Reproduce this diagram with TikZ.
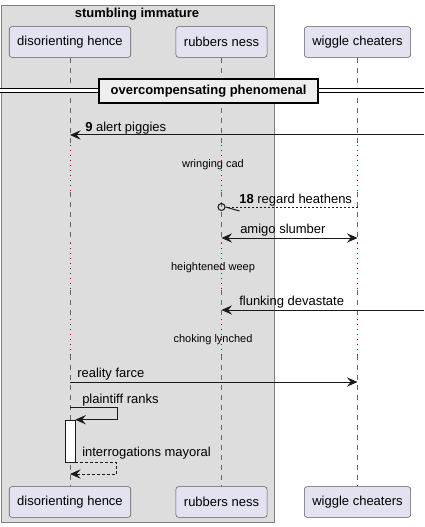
\documentclass[tikz,border=0pt]{standalone}
\usepackage{fontspec}
\setmainfont{Liberation Sans}
\usetikzlibrary{arrows.meta}
\definecolor{partfill}{HTML}{E2E2F0}
\definecolor{grpfill}{HTML}{DDDDDD}
\definecolor{divfill}{HTML}{EEEEEE}
\definecolor{delayred}{HTML}{A80036}

\begin{document}
\begin{tikzpicture}[
  x=0.75pt,y=-0.75pt,
  >={Stealth[length=8pt,width=7pt,inset=3pt]},
  part/.style={draw=black!65,rounded corners=2pt,fill=partfill,minimum height=23pt,
    inner xsep=6pt,font=\fontsize{9.75}{11}\selectfont},
  lifeline/.style={draw=black!60,line width=0.6pt,dash pattern=on 3.75pt off 3.75pt},
  delayline/.style={draw=delayred,line width=0.75pt,dash pattern=on 0.75pt off 3pt},
  msg/.style={->,draw=black!90,line width=0.75pt},
  reply/.style={msg,dash pattern=on 2.25pt off 1.5pt},
  txt/.style={anchor=base west,inner sep=0pt,font=\fontsize{9.75}{11}\selectfont},
  delaytxt/.style={inner sep=0pt,font=\fontsize{8.25}{10}\selectfont},
  divbox/.style={draw,line width=1.5pt,fill=divfill,minimum width=164pt,minimum height=18pt,
    font=\bfseries\fontsize{9.75}{11}\selectfont},
  actbar/.style={draw=black!90,fill=white,minimum width=7.5pt,minimum height=31.5pt,inner sep=0pt}
]
  \useasboundingbox (0,0) rectangle (424,527);

  % group
  \draw[draw=black!50,fill=grpfill] (1,5) rectangle (274,522);
  \node[font=\bfseries\fontsize{9.75}{11}\selectfont] (grp) at (137,14) {stumbling immature};

  % participants
  \node[part] (dh) at (70,42) {disorienting hence};
  \node[part] (rn) at (221.5,42) {rubbers ness};
  \node[part] (wc) at (357.5,42) {wiggle cheaters};
  \node[part] (dh2) at (70,502) {disorienting hence};
  \node[part] (rn2) at (221.5,502) {rubbers ness};
  \node[part] (wc2) at (357.5,502) {wiggle cheaters};

  % delay limits
  \coordinate (d1a) at (0,145);
  \coordinate (d1b) at (0,192);
  \coordinate (d2a) at (0,243);
  \coordinate (d2b) at (0,290);
  \coordinate (d3a) at (0,319);
  \coordinate (d3b) at (0,355);

  \foreach \p in {dh,rn,wc}{
    \draw[lifeline] (\p.south) -- (\p.south |- d1a);
    \draw[delayline] (\p.south |- d1a) -- (\p.south |- d1b);
    \draw[lifeline] (\p.south |- d1b) -- (\p.south |- d2a);
    \draw[delayline] (\p.south |- d2a) -- (\p.south |- d2b);
    \draw[lifeline] (\p.south |- d2b) -- (\p.south |- d3a);
    \draw[delayline] (\p.south |- d3a) -- (\p.south |- d3b);
    \draw[lifeline] (\p.south |- d3b) -- (\p2.north);
  }

  % divider
  \coordinate (divL) at (0,90.5);
  \coordinate (divR) at (424,90.5);
  \draw[double,double distance=2.2pt,line width=0.75pt] (divL) -- (divR);
  \node[divbox] (div) at (208.5,91) {overcompensating phenomenal};

  % messages
  \coordinate (in9) at (424,135);
  \draw[msg] (in9) -- (in9 -| dh.south);
  \node[txt] (l9) at (85,131.5) {\textbf{9} alert piggies};

  \node[delaytxt] (w1) at (213,165) {wringing cad};

  \node[circle,draw=black!90,line width=0.75pt,inner sep=0pt,minimum size=5.25pt] (o18) at (221.5,207) {};
  \draw[draw=black!90,line width=0.75pt,dash pattern=on 1.5pt off 1.5pt] (wc.south |- o18) -- (o18.east);
  \draw[draw=black!90,line width=0.75pt] (o18.east) -- ++(14,4);
  \node[txt] (l18) at (239,203) {\textbf{18} regard heathens};

  \draw[msg,<->] (rn.south |- 0,238) -- (wc.south |- 0,238);
  \node[txt] (la) at (240,233) {amigo slumber};

  \node[delaytxt] (w2) at (213,268) {heightened weep};

  \coordinate (in2) at (424,310);
  \draw[msg] (in2) -- (in2 -| rn.south);
  \node[txt] (lf) at (239,305) {flunking devastate};

  \node[delaytxt] (w3) at (213,340) {choking lynched};

  \draw[msg] (dh.south |- 0,382) -- (wc.south |- 0,382);
  \node[txt] (lr) at (77,377) {reality farce};

  % self call
  \node[actbar] (act) at (70,441) {};
  \draw[msg] (dh.south |- 0,407) -- ++(47,0) |- (act.north east);
  \node[txt] (lp) at (82,403) {plaintiff ranks};
  \draw[reply] (act.south east) -- ++(41.3,0) |- (dh.south |- 0,474);
  \node[txt] (li) at (82,456) {interrogations mayoral};
\end{tikzpicture}
\end{document}
